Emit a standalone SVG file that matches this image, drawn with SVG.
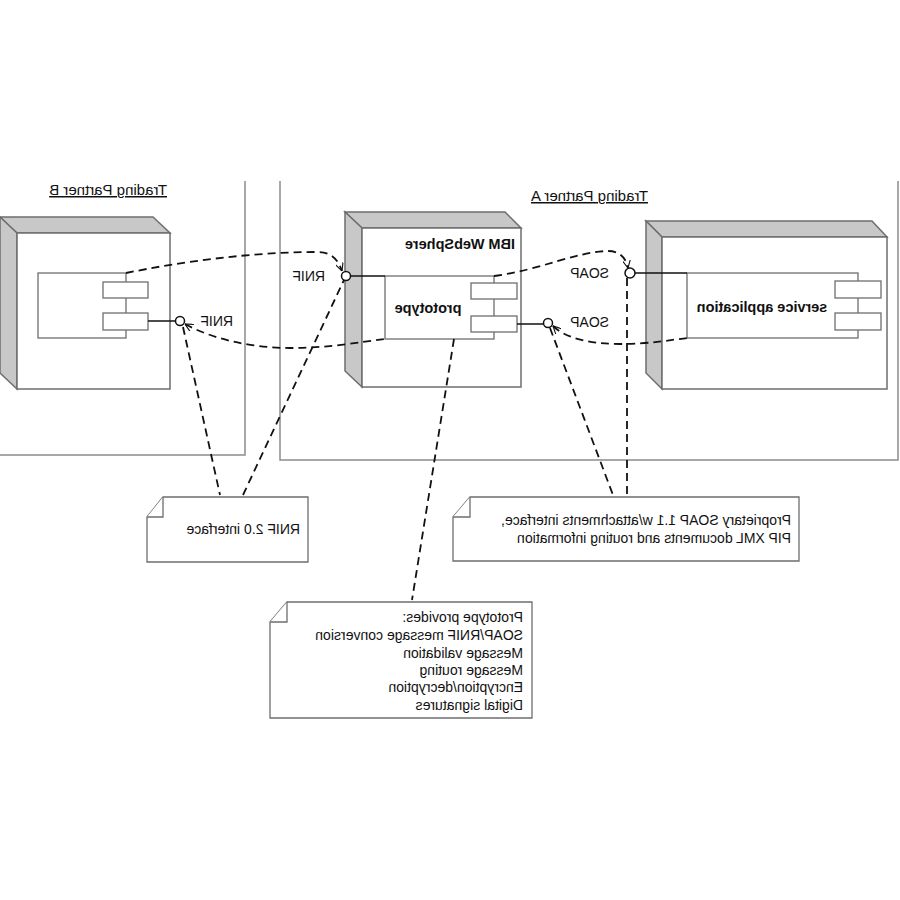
<svg xmlns="http://www.w3.org/2000/svg" width="900" height="900" viewBox="0 0 900 900">
<style>
.part{fill:none;stroke:#8c8c8c;stroke-width:1.5}
.face{fill:#fff;stroke:#6e6e6e;stroke-width:1.5}
.side{fill:#c8c8c8;stroke:#6e6e6e;stroke-width:1.5}
.comp{fill:#fff;stroke:#6e6e6e;stroke-width:1.3}
.lol{fill:none;stroke:#111;stroke-width:1.5}
.circ{fill:#fff;stroke:#111;stroke-width:1.5}
.dep{fill:none;stroke:#111;stroke-width:1.8;stroke-dasharray:8 5}
.note{fill:#fff;stroke:#6e6e6e;stroke-width:1.3}
text{font-family:"Liberation Sans",Arial,sans-serif;font-size:14px;fill:#111}
.b{font-weight:bold;font-size:14.5px}
.u{text-decoration:underline;font-size:15px}
.m{text-anchor:middle}
</style>
<defs>
<marker id="v" viewBox="0 0 10 10" refX="10" refY="5" markerWidth="8" markerHeight="8" markerUnits="userSpaceOnUse" orient="auto-start-reverse">
<path d="M0,0 L10,5 L0,10" fill="none" stroke="#111" stroke-width="1.4"/>
</marker>
</defs>
<rect width="900" height="900" fill="#fff"/>

<g id="partitions">
<path class="part" d="M245,181 L245,455 L0,455"/>
<path class="part" d="M280,181 L280,460 L898,460 L898,181"/>
</g>

<g id="nodeB">
<polygon class="side" points="0,217 153,217 170,233 17,233"/>
<polygon class="side" points="0,217 17,233 17,389 0,373"/>
<rect class="face" x="17" y="233" width="153" height="156"/>
<rect class="comp" x="38" y="273" width="88" height="65"/>
<rect class="comp" x="103" y="282" width="45" height="16"/>
<rect class="comp" x="103" y="313" width="45" height="17"/>
<line class="lol" x1="148" y1="321" x2="176" y2="321"/>
<circle class="circ" cx="180" cy="321" r="4.5"/>
</g>

<g id="nodeWebSphere">
<polygon class="side" points="345,212 505,212 521,228 362,228"/>
<polygon class="side" points="345,212 362,228 362,387 345,371"/>
<rect class="face" x="362" y="228" width="159" height="159"/>
<rect class="comp" x="385" y="276" width="109" height="63"/>
<rect class="comp" x="471" y="283" width="46" height="16"/>
<rect class="comp" x="471" y="316" width="46" height="16"/>
<line class="lol" x1="350" y1="276" x2="385" y2="276"/>
<circle class="circ" cx="346" cy="276" r="4.5"/>
<line class="lol" x1="517" y1="324" x2="543" y2="324"/>
<circle class="circ" cx="548" cy="323" r="4.5"/>
</g>

<g id="nodeService">
<polygon class="side" points="646,221 872,221 887,237 662,237"/>
<polygon class="side" points="646,221 662,237 662,389 646,373"/>
<rect class="face" x="662" y="237" width="225" height="152"/>
<rect class="comp" x="687" y="273" width="171" height="65"/>
<rect class="comp" x="835" y="281" width="46" height="17"/>
<rect class="comp" x="835" y="313" width="46" height="17"/>
<line class="lol" x1="635" y1="273" x2="687" y2="273"/>
<circle class="circ" cx="630" cy="273" r="5"/>
</g>

<g id="noteRNIF">
<path class="note" d="M163,497 L308,497 L308,562 L147,562 L147,517 Z"/>
<path class="note" d="M163,497 L163,517 L147,517"/>
</g>
<g id="noteSOAP">
<path class="note" d="M470,497 L799,497 L799,561 L453,561 L453,517 Z"/>
<path class="note" d="M470,497 L470,517 L453,517"/>
</g>
<g id="notePrototype">
<path class="note" d="M287,602 L532,602 L532,718 L270,718 L270,622 Z"/>
<path class="note" d="M287,602 L287,622 L270,622"/>
</g>

<g id="connectors">
<path class="dep" marker-end="url(#v)" d="M126,273 C180,262 250,252 318,252 C332,252 338,260 342,271"/>
<path class="dep" marker-end="url(#v)" d="M494,276 C540,270 575,252 608,251 C620,251 626,258 628,268"/>
<path class="dep" marker-start="url(#v)" d="M185,324 C210,338 250,348 290,348 C330,348 360,342 385,339"/>
<path class="dep" marker-start="url(#v)" d="M553,326 C565,338 590,344 620,344 C650,344 670,340 687,338"/>
<path class="dep" d="M183,327 L220,495"/>
<path class="dep" d="M243,495 L344,280"/>
<path class="dep" d="M454,339 L412,600"/>
<path class="dep" d="M550,328 L613,495"/>
<path class="dep" d="M627,278 L627,495"/>
</g>

<g id="labels" transform="matrix(-1 0 0 1 900 0)">
<text class="u" x="733" y="195">Trading Partner B</text>
<text class="u" x="252" y="201">Trading Partner A</text>
<text class="b" x="385" y="249">IBM WebSphere</text>
<text class="b m" x="472" y="313">prototype</text>
<text class="b m" x="138" y="312">service application</text>
<text x="667" y="326">RNIF</text>
<text x="575" y="281">RNIF</text>
<text x="291" y="278">SOAP</text>
<text x="291" y="327">SOAP</text>
<text x="600" y="534">RNIF 2.0 interface</text>
<text x="109" y="525">Proprietary SOAP 1.1 w/attachments interface,</text>
<text x="109" y="543">PIP XML documents and routing information</text>
<text x="377" y="622">Prototype provides:</text>
<text x="377" y="640">SOAP/RNIF message conversion</text>
<text x="377" y="658">Message validation</text>
<text x="377" y="675">Message routing</text>
<text x="377" y="692">Encryption/decryption</text>
<text x="377" y="710">Digital signatures</text>
</g>
</svg>
